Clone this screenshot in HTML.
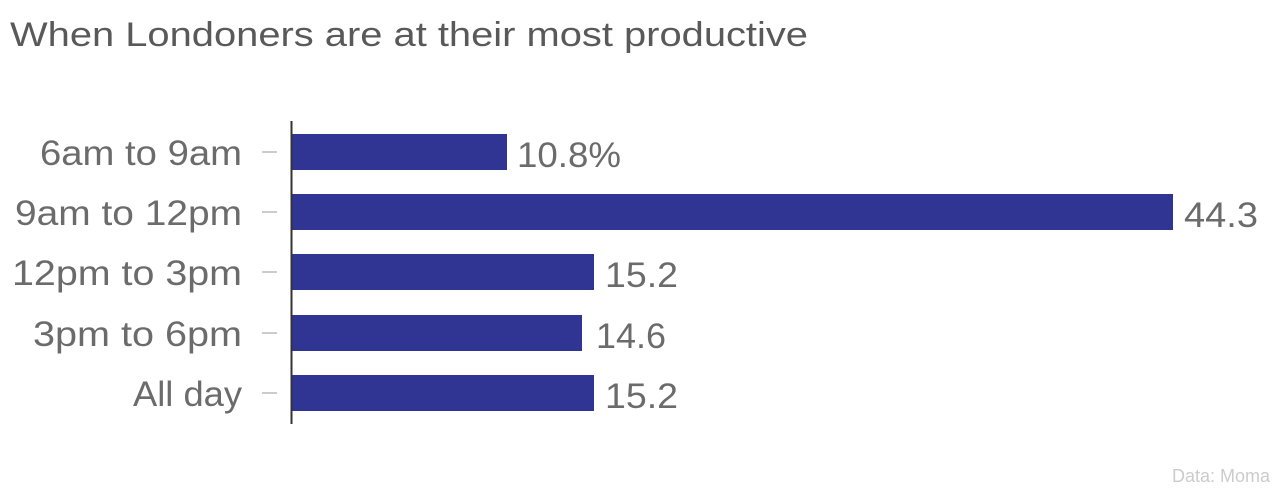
<!DOCTYPE html>
<html><head><meta charset="utf-8"><style>
body{margin:0;background:#fff;width:1280px;height:490px;overflow:hidden}
svg text{font-family:"Liberation Sans",sans-serif}
</style></head><body>
<svg width="1280" height="490" xmlns="http://www.w3.org/2000/svg">
<text x="10" y="46" font-size="34" fill="#595959" textLength="798" lengthAdjust="spacingAndGlyphs">When Londoners are at their most productive</text>
<g fill="#303593">
<rect x="292" y="134" width="215" height="36"/>
<rect x="292" y="194" width="881" height="36"/>
<rect x="292" y="254" width="302" height="36"/>
<rect x="292" y="315" width="290" height="36"/>
<rect x="292" y="375" width="302" height="36"/>
</g>
<line x1="291.5" y1="121" x2="291.5" y2="424" stroke="#333" stroke-width="2"/>
<g stroke="#ccc" stroke-width="2">
<line x1="262" y1="152" x2="277" y2="152"/><line x1="262" y1="212" x2="277" y2="212"/>
<line x1="262" y1="272" x2="277" y2="272"/><line x1="262" y1="333" x2="277" y2="333"/>
<line x1="262" y1="393" x2="277" y2="393"/>
</g>
<g font-size="35" fill="#6b6b6b">
<text x="40" y="165" textLength="202" lengthAdjust="spacingAndGlyphs">6am to 9am</text>
<text x="15" y="225" textLength="227" lengthAdjust="spacingAndGlyphs">9am to 12pm</text>
<text x="12" y="285" textLength="230" lengthAdjust="spacingAndGlyphs">12pm to 3pm</text>
<text x="33" y="346" textLength="209" lengthAdjust="spacingAndGlyphs">3pm to 6pm</text>
<text x="133" y="406" textLength="109" lengthAdjust="spacingAndGlyphs">All day</text>
<text x="517" y="167" textLength="104" lengthAdjust="spacingAndGlyphs">10.8%</text>
<text x="1184" y="227" textLength="74" lengthAdjust="spacingAndGlyphs">44.3</text>
<text x="605" y="287" textLength="73" lengthAdjust="spacingAndGlyphs">15.2</text>
<text x="596" y="348" textLength="70" lengthAdjust="spacingAndGlyphs">14.6</text>
<text x="605" y="408" textLength="73" lengthAdjust="spacingAndGlyphs">15.2</text>
</g>
<text x="1270" y="482" font-size="18" fill="#ccc" text-anchor="end">Data: Moma</text>
</svg>
</body></html>
